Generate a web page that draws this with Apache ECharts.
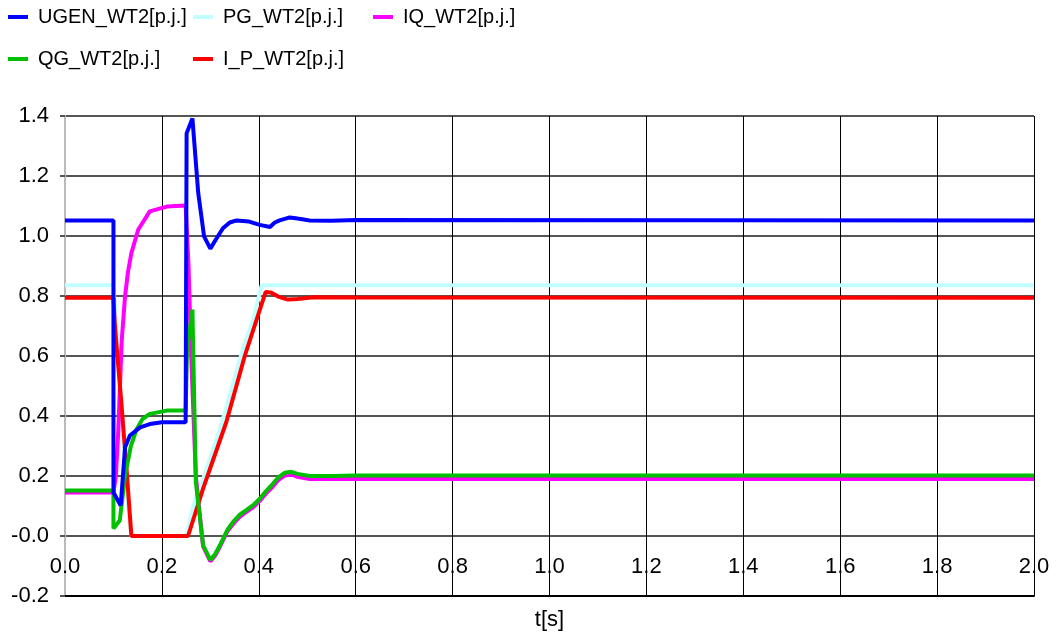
<!DOCTYPE html>
<html>
<head>
<meta charset="utf-8">
<script src="https://cdn.jsdelivr.net/npm/echarts@6/dist/echarts.min.js"></script>
<style>html,body{margin:0;padding:0;background:#fff}#c{width:1060px;height:636px}</style>
</head>
<body>
<div id="c"></div>
<script>
// ---- data (time [s], value [p.j.]) ----
const xTicks = [0,0.2,0.4,0.6,0.8,1.0,1.2,1.4,1.6,1.8,2.0];
const yTicks = [-0.2,0,0.2,0.4,0.6,0.8,1.0,1.2,1.4];

const ugenT = [0,0.1,0.1,0.115,0.124,0.134,0.155,0.175,0.2,0.249,0.251,0.263,0.275,0.287,0.3,0.312,0.326,0.34,0.354,0.38,0.402,0.423,0.433,0.443,0.464,0.48,0.505,0.55,0.6,2.0];
const ugenV = [1.052,1.052,0.145,0.102,0.296,0.335,0.362,0.373,0.379,0.379,1.342,1.392,1.143,0.999,0.958,0.99,1.026,1.045,1.052,1.048,1.037,1.03,1.045,1.052,1.062,1.058,1.052,1.051,1.053,1.052];

const pgT = [0,0.1,0.115,0.13,0.137,0.25,0.265,0.292,0.32,0.368,0.388,0.406,0.42,2.0];
const pgV = [0.836,0.836,0.45,0.1,0.0,0.0,0.10,0.224,0.357,0.628,0.72,0.836,0.836,0.836];

const iqT = [0,0.1,0.105,0.11,0.117,0.124,0.13,0.137,0.151,0.175,0.21,0.249,0.255,0.26,0.27,0.285,0.3,0.31,0.32,0.335,0.347,0.36,0.374,0.39,0.402,0.415,0.429,0.44,0.454,0.467,0.48,0.505,0.55,0.6,2.0];
const iqV = [0.145,0.145,0.2,0.35,0.65,0.8,0.88,0.943,1.021,1.082,1.098,1.102,0.9,0.62,0.2,-0.035,-0.085,-0.065,-0.035,0.015,0.04,0.063,0.08,0.098,0.117,0.142,0.165,0.186,0.202,0.205,0.197,0.19,0.19,0.19,0.19];

const qgT = [0,0.1,0.1,0.113,0.124,0.136,0.148,0.16,0.175,0.21,0.249,0.252,0.263,0.27,0.285,0.3,0.31,0.32,0.335,0.347,0.36,0.374,0.39,0.402,0.415,0.429,0.44,0.454,0.467,0.48,0.505,0.55,0.6,2.0];
const qgV = [0.152,0.152,0.025,0.052,0.202,0.3,0.357,0.39,0.407,0.418,0.418,0.62,0.755,0.18,-0.03,-0.08,-0.06,-0.03,0.02,0.047,0.07,0.086,0.105,0.124,0.15,0.174,0.195,0.211,0.214,0.207,0.2,0.2,0.202,0.202];

const ipT = [0,0.1,0.103,0.115,0.127,0.137,0.254,0.285,0.333,0.371,0.414,0.425,0.44,0.46,0.48,0.512,0.6,2.0];
const ipV = [0.794,0.794,0.7,0.47,0.224,0.0,0.0,0.158,0.38,0.6,0.813,0.812,0.798,0.788,0.79,0.796,0.795,0.794];

const names = ['UGEN_WT2[p.j.]','PG_WT2[p.j.]','IQ_WT2[p.j.]','QG_WT2[p.j.]','I_P_WT2[p.j.]'];
const colors = ['#0000ff','#c0ffff','#ff00ff','#00c000','#ff0000'];

function zip(t,v){return t.map((x,i)=>[x,v[i]]);}
const FONT = '"Liberation Sans", Arial, sans-serif';

const seriesDefs = [
  {name:names[1], data:zip(pgT,pgV), color:colors[1], z:2},
  {name:names[2], data:zip(iqT,iqV), color:colors[2], z:3},
  {name:names[4], data:zip(ipT,ipV), color:colors[4], z:4},
  {name:names[3], data:zip(qgT,qgV), color:colors[3], z:5},
  {name:names[0], data:zip(ugenT,ugenV), color:colors[0], z:6}
];

const legendPos = [
  {left:8, top:7},   // UGEN
  {left:193, top:7}, // PG
  {left:373, top:7}, // IQ
  {left:8, top:49},  // QG
  {left:193, top:49} // I_P
];

const chart = echarts.init(document.getElementById('c'), null, {renderer:'canvas'});
chart.setOption({
  animation:false,
  backgroundColor:'#fff',
  legend: names.map((n,i)=>({
    data:[n], left:legendPos[i].left, top:legendPos[i].top, padding:0,
    icon:'rect', itemWidth:20, itemHeight:4, itemGap:10,
    textStyle:{fontSize:20, fontFamily:FONT, color:'#000', padding:[0,0,0,5]}
  })),
  grid:{left:65, right:26, top:116, bottom:38, containLabel:false},
  xAxis:{
    type:'value', min:0, max:2, interval:0.2,
    name:'t[s]', nameLocation:'middle', nameGap:13,
    nameTextStyle:{fontSize:22, fontFamily:FONT, color:'#000'},
    axisLine:{show:true, onZero:false, lineStyle:{color:'#000', width:2}},
    axisTick:{show:false},
    axisLabel:{margin:-40, fontSize:22, fontFamily:FONT, color:'#000',
      formatter:v=>v.toFixed(1)},
    splitLine:{show:true, lineStyle:{color:'#000', width:1}}
  },
  yAxis:{
    type:'value', min:-0.2, max:1.4, interval:0.2,
    axisLine:{show:true, lineStyle:{color:'#bbb', width:2}},
    axisTick:{show:true, length:5, lineStyle:{color:'#555', width:2}},
    axisLabel:{margin:16, fontSize:22, fontFamily:FONT, color:'#000',
      formatter:v=>Math.abs(v)<1e-9?'-0.0':v.toFixed(1)},
    splitLine:{show:true, lineStyle:{color:'#555', width:2}}
  },
  series: seriesDefs.map(s=>({
    name:s.name, type:'line', data:s.data, z:s.z,
    showSymbol:false, symbol:'none', smooth:false,
    lineStyle:{color:s.color, width:4},
    itemStyle:{color:s.color},
    emphasis:{disabled:true}
  }))
});
</script>
</body>
</html>
